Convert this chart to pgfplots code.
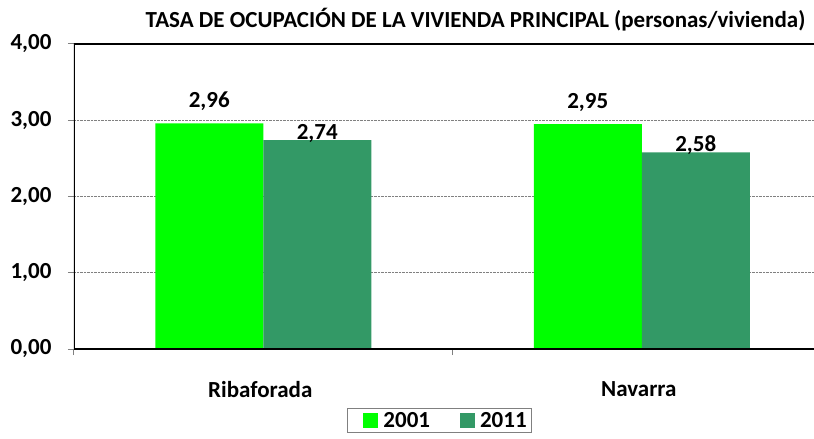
\documentclass[border=0pt]{standalone}
\usepackage{fontspec}
\setmainfont{Carlito}
\usepackage{pgfplots}
\pgfplotsset{compat=1.18}
\definecolor{Verde01}{HTML}{00FF00}
\definecolor{Verde11}{HTML}{339966}

\begin{document}
\begin{tikzpicture}[x=1pt,y=1pt]
\begin{axis}[
 scale only axis,
 width=740pt,height=305pt,
 ybar=0pt,bar width=108pt,
 xmin=-0.5,xmax=1.455,
 ymin=0,ymax=4,
 axis line style={draw=none},
 xtick pos=bottom,ytick pos=left,
 ytick={0,1,2,3,4},
 y tick style={draw=gray,line width=1pt},
 y tick label style={xshift=-13pt},
 tick align=outside,major tick length=6pt,
 ymajorgrids,grid style={gray,densely dotted,line width=0.8pt},
 xtick={0,1},xticklabels={Ribaforada,Navarra},
 x tick style={draw=none},
 extra x ticks={-0.5,0.5},extra x tick labels={},
 extra x tick style={x tick style={draw=gray,line width=1pt}},
 x tick label style={yshift=-23pt,xshift=-3pt},
 tick label style={font=\fontsize{23}{27}\selectfont\bfseries},
 /pgf/number format/.cd,fixed,fixed zerofill,precision=2,use comma,assume math mode=true,
 /pgfplots/.cd,
 nodes near coords,
 nodes near coords style={font=\fontsize{23}{27}\selectfont\bfseries,anchor=base},
 title={TASA DE OCUPACIÓN DE LA VIVIENDA PRINCIPAL (personas/vivienda)},
 title style={font=\fontsize{23}{27}\selectfont\bfseries,anchor=center,at={(rel axis cs:0.5426,1.06)}},
 legend columns=2,
 legend style={at={(rel axis cs:0.494,-0.193)},anchor=north,draw=gray,line width=1pt,
  font=\fontsize{23}{27}\selectfont\bfseries,
  /tikz/every even column/.append style={column sep=15pt},
  /tikz/every odd column/.append style={column sep=3pt}},
 legend image code/.code={\path (0pt,0pt); \fill[#1,draw=none] (13pt,-7.5pt) rectangle (28pt,7.5pt);},
]
\addplot[fill=Verde01,draw=none,every node near coord/.append style={yshift=16pt}] coordinates {(0,2.96)(1,2.95)};
\addlegendentry{2001}
\addplot[fill=Verde11,draw=none,every node near coord/.append style={yshift=1pt}] coordinates {(0,2.74)(1,2.58)};
\addlegendentry{2011}
\draw[black,line width=1.5pt] (rel axis cs:1,1) -- (rel axis cs:0,1) -- (rel axis cs:0,0) -- (rel axis cs:1,0);
\end{axis}
\pgfresetboundingbox
\path[use as bounding box] (-74pt,-90pt) rectangle (740pt,349pt);
\end{tikzpicture}
\end{document}
